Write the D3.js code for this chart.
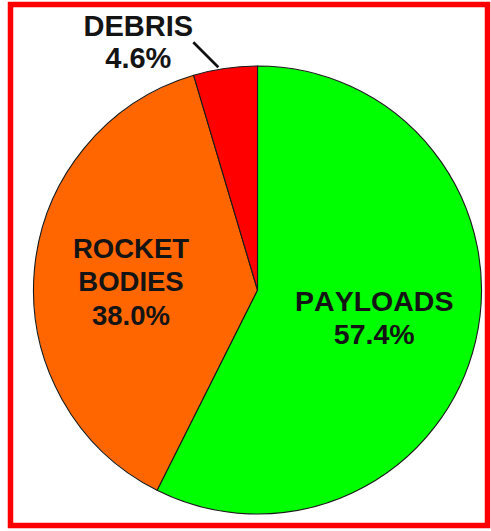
<!DOCTYPE html>
<html>
<head>
<meta charset="utf-8">
<script src="https://cdn.jsdelivr.net/npm/d3@7/dist/d3.min.js"></script>
<style>
  html, body { margin: 0; padding: 0; background: #fff; }
  svg { display: block; }
  text { font-kerning: none; }
</style>
</head>
<body>
<script>
// ---- data ----
const categories = ["PAYLOADS", "ROCKET BODIES", "DEBRIS"];
const labelLines = [["PAYLOADS"], ["ROCKET", "BODIES"], ["DEBRIS"]];
const values = [57.4, 38.0, 4.6];
const colors = ["#00FF00", "#FF6600", "#FF0000"];

// ---- layout ----
const W = 491, H = 531;
const cx = 257.5, cy = 290, R = 224;
const capHalf = 10;

const svg = d3.select("body").append("svg")
  .attr("width", W).attr("height", H);

svg.append("rect").attr("width", W).attr("height", H).attr("fill", "#fff");

// red frame
svg.append("rect")
  .attr("x", 10.5).attr("y", 4.5)
  .attr("width", 477).attr("height", 521)
  .attr("fill", "none").attr("stroke", "#FF0000").attr("stroke-width", 5.5);

const g = svg.append("g").attr("transform", `translate(${cx},${cy})`);

const pie = d3.pie().sort(null).value(d => d.value)
  .startAngle(0).endAngle(2 * Math.PI);
const data = pie(categories.map((c, i) => ({ name: c, value: values[i], color: colors[i], lines: labelLines[i] })));

const arc = d3.arc().innerRadius(0).outerRadius(R);

g.selectAll("path.slice").data(data).join("path")
  .attr("class", "slice")
  .attr("d", arc)
  .attr("fill", d => d.data.color)
  .attr("stroke", "#1a1a1a")
  .attr("stroke-width", 1.1)
  .attr("stroke-linejoin", "round");

// label placement rules (radius & offset per slice)
const labelCfg = [
  { r: 120, dx: 0, dy: 0, inside: true, size: 28.5, lh: 33 },
  { r: 127, dx: 0, dy: 2.5, inside: true, size: 27.5, lh: 33.5 },
  { r: 0, dx: 0, dy: 0, inside: false, size: 29, lh: 31.5 }
];

data.forEach((d, i) => {
  const cfg = labelCfg[i];
  const pct = d3.format(".1f")(d.data.value) + "%";
  const lines = d.data.lines.concat([pct]);
  let ax, ay;
  if (cfg.inside) {
    const la = d3.arc().innerRadius(cfg.r).outerRadius(cfg.r);
    [ax, ay] = la.centroid(d);
    ax += cfg.dx; ay += cfg.dy;
  } else {
    // leader line from slice edge outward
    const a = d.startAngle + 0.41 * (d.endAngle - d.startAngle);
    const ex = (R + 1) * Math.sin(a), ey = -(R + 1) * Math.cos(a);
    const sx = ex - 26, sy = ey - 26;
    g.append("line")
      .attr("x1", ex - 1).attr("y1", ey - 1)
      .attr("x2", sx).attr("y2", sy)
      .attr("stroke", "#111").attr("stroke-width", 2.6);
    ax = sx - 55; ay = sy - 0.5;
  }
  const n = lines.length;
  const t = g.append("text")
    .attr("text-anchor", "middle")
    .attr("font-family", "'Liberation Sans', Arial, sans-serif")
    .attr("font-weight", "bold")
    .attr("font-size", cfg.size)
    .attr("fill", "#141414");
  lines.forEach((ln, k) => {
    t.append("tspan")
      .attr("x", ax)
      .attr("y", ay + (k - (n - 1) / 2) * cfg.lh + capHalf)
      .text(ln);
  });
});
</script>
</body>
</html>
